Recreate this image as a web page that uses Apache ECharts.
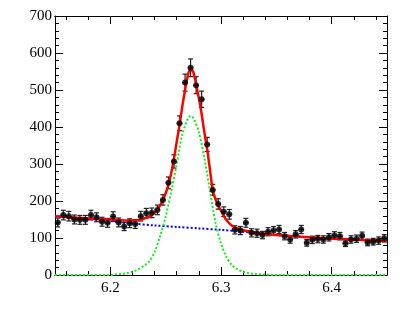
<!DOCTYPE html>
<html>
<head>
<meta charset="utf-8">
<script src="https://cdn.jsdelivr.net/npm/echarts@6/dist/echarts.min.js"></script>
<style>
  html, body { margin: 0; padding: 0; background: #fff; }
  #chart { width: 409px; height: 327px; }
</style>
</head>
<body>
<div id="chart"></div>
<script>
// bin centres (bin width 0.005)
var binX = [6.1525, 6.1575, 6.1625, 6.1675, 6.1725, 6.1775, 6.1825, 6.1875, 6.1925, 6.1975,
            6.2025, 6.2075, 6.2125, 6.2175, 6.2225, 6.2275, 6.2325, 6.2375, 6.2425, 6.2475,
            6.2525, 6.2575, 6.2625, 6.2675, 6.2725, 6.2775, 6.2825, 6.2875, 6.2925, 6.2975,
            6.3025, 6.3075, 6.3125, 6.3175, 6.3225, 6.3275, 6.3325, 6.3375, 6.3425, 6.3475,
            6.3525, 6.3575, 6.3625, 6.3675, 6.3725, 6.3775, 6.3825, 6.3875, 6.3925, 6.3975,
            6.4025, 6.4075, 6.4125, 6.4175, 6.4225, 6.4275, 6.4325, 6.4375, 6.4425, 6.4475];
var counts = [142, 162, 159, 150, 149, 149, 162, 156, 144, 141,
              158, 142, 131, 140, 138, 159, 167, 168, 176, 203,
              249, 307, 410, 520, 560, 513, 475, 353, 230, 192,
              171, 164, 122, 120, 141, 114, 113, 108, 117, 120,
              123, 105, 96, 110, 123, 87, 95, 97, 96, 102,
              107, 105, 86, 96, 98, 106, 88, 90, 93, 99];
var errors = [12, 13, 13, 12, 12, 12, 13, 12, 12, 12,
              13, 12, 11, 12, 12, 13, 13, 13, 13, 14,
              16, 18, 20, 23, 24, 23, 22, 19, 15, 14,
              13, 13, 11, 11, 12, 11, 11, 10, 11, 11,
              11, 10, 10, 10, 11, 9, 10, 10, 10, 10,
              10, 10, 9, 10, 10, 10, 9, 9, 10, 10];

// total fit (red)
var fitX = [6.15, 6.16, 6.17, 6.18, 6.19, 6.20, 6.21, 6.22, 6.225, 6.23, 6.235, 6.24, 6.245, 6.25,
            6.2525, 6.255, 6.2575, 6.26, 6.2625, 6.265, 6.2675, 6.27, 6.2725, 6.275, 6.2775, 6.28,
            6.2825, 6.285, 6.2875, 6.29, 6.2925, 6.295, 6.2975, 6.30, 6.3025, 6.305, 6.31, 6.315,
            6.32, 6.33, 6.34, 6.35, 6.36, 6.37, 6.38, 6.39, 6.40, 6.41, 6.42, 6.43, 6.44, 6.45];
var fitY = [159, 157, 155, 153, 151, 150, 148, 147, 148, 152, 158, 168, 188, 221,
            245, 275, 315, 360, 405, 455, 500, 540, 557, 548, 515, 478,
            435, 385, 340, 285, 230, 205, 188, 174, 160, 148, 133, 126,
            121, 115, 111, 108, 106, 104, 102, 100, 98, 97, 96, 94, 93, 92];

// signal (green)
var sigX = [6.15, 6.18, 6.20, 6.205, 6.21, 6.215, 6.22, 6.225, 6.23, 6.235, 6.24, 6.245, 6.25,
            6.255, 6.26, 6.265, 6.27, 6.2725, 6.275, 6.28, 6.285, 6.29, 6.295, 6.30, 6.305,
            6.31, 6.315, 6.32, 6.325, 6.33, 6.34, 6.35, 6.40, 6.45];
var sigY = [0, 0, 0, 2, 3, 5, 9, 15, 24, 36, 62, 105, 158,
            225, 300, 380, 422, 430, 424, 386, 315, 228, 142, 85, 48,
            26, 15, 9, 5, 3, 1, 0, 0, 0];

// background (blue)
var bkgX = [6.15, 6.18, 6.20, 6.21, 6.22, 6.24, 6.26, 6.28, 6.30, 6.32, 6.34, 6.36, 6.38, 6.40, 6.42, 6.45];
var bkgY = [157, 151, 146, 142, 139, 134, 130, 126, 122, 117, 111, 106, 102, 98, 96, 92];

var xMajorTicks = [6.2, 6.3, 6.4];
var xMinorTicks = [6.16, 6.18, 6.22, 6.24, 6.26, 6.28, 6.32, 6.34, 6.36, 6.38, 6.42, 6.44];

function zip(a, b) {
  return a.map(function (v, i) { return [v, b[i]]; });
}

var font = { fontFamily: 'Liberation Serif', fontSize: 15, color: '#000' };
var halfBin = 0.0025;

function xAx(pos, ticks, len, labels) {
  return {
    type: 'value', position: pos, min: 6.15, max: 6.45,
    axisLine: { show: true, onZero: false, lineStyle: { color: '#000', width: 1 } },
    axisTick: { show: true, inside: true, length: len, customValues: ticks, lineStyle: { color: '#000' } },
    axisLabel: labels ? Object.assign({ customValues: ticks, margin: 6 }, font) : { show: false },
    splitLine: { show: false }
  };
}

function yAx(pos, labels) {
  return {
    type: 'value', position: pos, min: 0, max: 700, interval: 100,
    axisLine: { show: true, onZero: false, lineStyle: { color: '#000', width: 1 } },
    axisTick: { show: true, inside: true, length: 8, lineStyle: { color: '#000' } },
    minorTick: { show: true, splitNumber: 5, length: 4, lineStyle: { color: '#000' } },
    axisLabel: labels ? Object.assign({ margin: 3 }, font) : { show: false },
    splitLine: { show: false }
  };
}

var chart = echarts.init(document.getElementById('chart'), null, { renderer: 'canvas' });
chart.setOption({
  animation: false,
  backgroundColor: '#fff',
  grid: { left: 55, right: 22, top: 16, bottom: 52 },
  xAxis: [
    xAx('bottom', xMajorTicks, 8, true),
    xAx('bottom', xMinorTicks, 4, false),
    xAx('top', xMajorTicks, 8, false),
    xAx('top', xMinorTicks, 4, false)
  ],
  yAxis: [yAx('left', true), yAx('right', false)],
  series: [
    {
      type: 'custom',
      z: 3,
      data: binX.map(function (x, i) { return [x, counts[i], errors[i]]; }),
      renderItem: function (params, api) {
        var x = api.value(0), y = api.value(1), e = api.value(2);
        var top = api.coord([x, y + e]);
        var bot = api.coord([x, y - e]);
        var l = api.coord([x - halfBin, y]);
        var r = api.coord([x + halfBin, y]);
        var st = { stroke: '#222', lineWidth: 1.2 };
        return {
          type: 'group',
          children: [
            { type: 'line', shape: { x1: top[0], y1: top[1], x2: bot[0], y2: bot[1] }, style: st },
            { type: 'line', shape: { x1: top[0] - 2.5, y1: top[1], x2: top[0] + 2.5, y2: top[1] }, style: st },
            { type: 'line', shape: { x1: bot[0] - 2.5, y1: bot[1], x2: bot[0] + 2.5, y2: bot[1] }, style: st },
            { type: 'line', shape: { x1: l[0], y1: l[1], x2: r[0], y2: r[1] }, style: st }
          ]
        };
      }
    },
    {
      type: 'line', z: 4, data: zip(bkgX, bkgY), showSymbol: false, smooth: 0.3,
      lineStyle: { color: '#0000ff', width: 2, type: [2, 2] }
    },
    {
      type: 'line', z: 4, data: zip(sigX, sigY), showSymbol: false, smooth: 0.3,
      lineStyle: { color: '#11ee11', width: 2, type: [2, 2] }
    },
    {
      type: 'line', z: 5, data: zip(fitX, fitY), showSymbol: false, smooth: 0.3,
      lineStyle: { color: '#ff0000', width: 2.5 }
    },
    {
      type: 'scatter', z: 6, data: zip(binX, counts), symbol: 'circle', symbolSize: 6,
      itemStyle: { color: '#000' }
    }
  ]
});
</script>
</body>
</html>
